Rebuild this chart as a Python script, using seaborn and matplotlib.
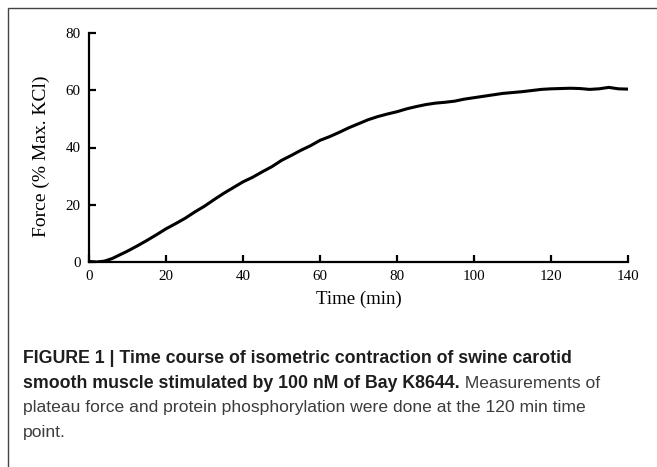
import numpy as np
import matplotlib
matplotlib.use("Agg")
import matplotlib.pyplot as plt
from matplotlib.patches import Rectangle
import seaborn as sns

# force trace (min, % max KCl)
time_min = [0, 2, 4, 6, 8, 10, 12.5, 15, 17.5, 20, 22.5, 25, 27.5, 30, 32.5, 35,
            37.5, 40, 42.5, 45, 47.5, 50, 52.5, 55, 57.5, 60, 62.5, 65, 67.5, 70,
            72.5, 75, 77.5, 80, 82.5, 85, 87.5, 90, 92.5, 95, 97.5, 100, 102.5,
            105, 107.5, 110, 112.5, 115, 117.5, 120, 122.5, 125, 127.5, 130,
            132.5, 135, 137.5, 140]
force_pct = [0.2, 0.0, 0.3, 1.2, 2.5, 3.8, 5.6, 7.5, 9.5, 11.6, 13.4, 15.3, 17.5,
             19.5, 21.8, 24.0, 26.0, 28.0, 29.6, 31.5, 33.3, 35.5, 37.2, 39.0,
             40.6, 42.5, 43.8, 45.3, 46.9, 48.3, 49.7, 50.8, 51.7, 52.5, 53.5,
             54.3, 55.0, 55.5, 55.8, 56.2, 56.9, 57.4, 57.9, 58.4, 58.9, 59.2,
             59.5, 59.9, 60.3, 60.5, 60.6, 60.7, 60.6, 60.3, 60.5, 61.0, 60.5,
             60.4]

x_ticks = [0, 20, 40, 60, 80, 100, 120, 140]
y_ticks = [0, 20, 40, 60, 80]

caption = [
    [("FIGURE 1 | Time course of isometric contraction of swine carotid", True)],
    [("smooth muscle stimulated by 100 nM of Bay K8644.", True), (" Measurements of", False)],
    [("plateau force and protein phosphorylation were done at the 120 min time", False)],
    [("point.", False)],
]

sns.set_theme(style="ticks")
plt.rcParams["font.family"] = ["Liberation Serif", "DejaVu Serif"]

W, H = 657, 467
fig = plt.figure(figsize=(W / 100, H / 100), dpi=100)
ax = fig.add_axes([89 / W, 1 - 262 / H, (628 - 89) / W, (262 - 33) / H])

sns.lineplot(x=time_min, y=force_pct, color="black", linewidth=2.2, ax=ax)

ax.set_xlim(0, 140)
ax.set_ylim(0, 80)
ax.set_xticks(x_ticks)
ax.set_yticks(y_ticks)
sns.despine(ax=ax)
for s in ["left", "bottom"]:
    ax.spines[s].set_linewidth(1.6)
    ax.spines[s].set_color("black")
ax.tick_params(direction="in", length=5, width=1.6, colors="black",
               labelsize=10.8, pad=6)
ax.set_xlabel("Time (min)", fontsize=13.5, color="black")
ax.set_ylabel("Force (% Max. KCl)", fontsize=14, color="black")
ax.xaxis.set_label_coords(0.5, -0.125)
ax.yaxis.set_label_coords(-0.072, 0.46)

# outer frame of the figure panel
fig.add_artist(Rectangle((8 / W, -0.02), 1.1, 1 - 8 / H + 0.02,
                         transform=fig.transFigure, fill=False,
                         edgecolor="#444444", linewidth=1.0))

# caption, bold lead-in then regular text
fig.canvas.draw()
renderer = fig.canvas.get_renderer()
baselines = [363, 387.5, 412, 436.5]
for line, yb in zip(caption, baselines):
    x = 23 / W
    for text, bold in line:
        t = fig.text(x, 1 - yb / H, text, fontsize=12.8 if bold else 12.6,
                     family=["Liberation Sans", "DejaVu Sans"],
                     fontweight="bold" if bold else "normal",
                     color="#1e1e1e" if bold else "#3c3c3c",
                     va="baseline", ha="left")
        bb = t.get_window_extent(renderer=renderer)
        x = bb.x1 / W

fig.savefig("out.png", dpi=100)
